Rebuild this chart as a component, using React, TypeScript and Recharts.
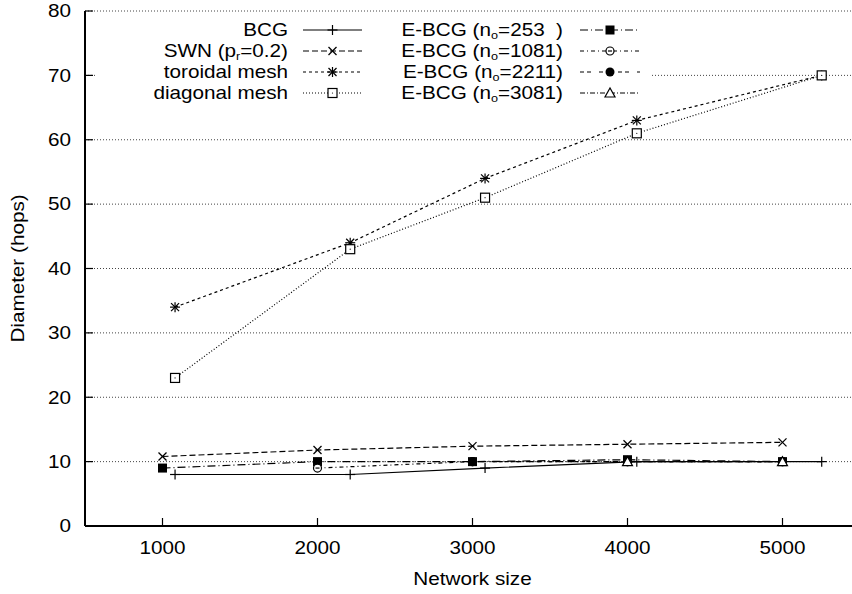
import React from 'react';
import { CartesianGrid, Legend, Line, LineChart, XAxis, YAxis } from 'recharts';

const FONT = '"Liberation Sans", Arial, Helvetica, sans-serif';
const FS = 18;
const STRETCH = 1.15; // gnuplot's Helvetica renders a bit wide

// network sizes used by BCG and the two meshes
const bcgSizes = [1081, 2211, 3081, 4060, 5253];
const bcgDiameter = [8, 8, 9, 10, 10];
const toroidalDiameter = [34, 44, 54, 63, 70];
const diagonalDiameter = [23, 43, 51, 61, 70];

// SWN and E-BCG use round sizes
const roundSizes = [1000, 2000, 3000, 4000, 5000];
const swnDiameter = [10.8, 11.8, 12.4, 12.7, 13];
const ebcg253Diameter = [9, 10, 10, 10.3, 10];
const ebcg1081Sizes = [2000, 3000, 4000, 5000];
const ebcg1081Diameter = [9, 10, 10, 10];
const ebcg2211Sizes = [3000, 4000, 5000];
const ebcg2211Diameter = [10, 10, 10];
const ebcg3081Sizes = [4000, 5000];
const ebcg3081Diameter = [10, 10];

const xTicks = [1000, 2000, 3000, 4000, 5000];
const xGridTicks = [1000, 1500, 2000, 2500, 3000, 3500, 4000, 4500, 5000];
const yTicks = [0, 10, 20, 30, 40, 50, 60, 70, 80];

type MarkerKind =
  | 'plus'
  | 'cross'
  | 'star'
  | 'square'
  | 'squareFill'
  | 'circle'
  | 'circleFill'
  | 'triangle';

const zip = (xs: number[], ys: number[]) => xs.map((x, i) => ({ x, y: ys[i] }));

type Series = {
  label: React.ReactNode;
  data: { x: number; y: number }[];
  dash?: string;
  marker: MarkerKind;
};

const sub = (main: string, s: string, rest: string) => (
  <>
    {main}
    <tspan dy={3} fontSize={11}>
      {s}
    </tspan>
    <tspan dy={-3}>{rest}</tspan>
  </>
);

const leftSeries: Series[] = [
  { label: 'BCG', data: zip(bcgSizes, bcgDiameter), marker: 'plus' },
  { label: sub('SWN (p', 'r', '=0.2)'), data: zip(roundSizes, swnDiameter), dash: '6 3', marker: 'cross' },
  { label: 'toroidal mesh', data: zip(bcgSizes, toroidalDiameter), dash: '3 3', marker: 'star' },
  { label: 'diagonal mesh', data: zip(bcgSizes, diagonalDiameter), dash: '1 2', marker: 'square' },
];

const rightSeries: Series[] = [
  { label: sub('E-BCG (n', 'o', '=253  )'), data: zip(roundSizes, ebcg253Diameter), dash: '8 3 1 3', marker: 'squareFill' },
  { label: sub('E-BCG (n', 'o', '=1081)'), data: zip(ebcg1081Sizes, ebcg1081Diameter), dash: '4 3 1 3', marker: 'circle' },
  { label: sub('E-BCG (n', 'o', '=2211)'), data: zip(ebcg2211Sizes, ebcg2211Diameter), dash: '4 3 4 8', marker: 'circleFill' },
  { label: sub('E-BCG (n', 'o', '=3081)'), data: zip(ebcg3081Sizes, ebcg3081Diameter), dash: '5 2 1 2', marker: 'triangle' },
];

const allSeries = [...leftSeries, ...rightSeries];

const Marker = ({ kind, cx, cy }: { kind: MarkerKind; cx: number; cy: number }) => {
  const s = { stroke: '#000', strokeWidth: 1.2, fill: 'none' };
  switch (kind) {
    case 'plus':
      return (
        <g {...s}>
          <line x1={cx - 5} y1={cy} x2={cx + 5} y2={cy} />
          <line x1={cx} y1={cy - 5} x2={cx} y2={cy + 5} />
        </g>
      );
    case 'cross':
      return (
        <g {...s}>
          <line x1={cx - 4} y1={cy - 4} x2={cx + 4} y2={cy + 4} />
          <line x1={cx - 4} y1={cy + 4} x2={cx + 4} y2={cy - 4} />
        </g>
      );
    case 'star':
      return (
        <g {...s}>
          <line x1={cx - 4} y1={cy - 4} x2={cx + 4} y2={cy + 4} />
          <line x1={cx - 4} y1={cy + 4} x2={cx + 4} y2={cy - 4} />
          <line x1={cx - 5} y1={cy} x2={cx + 5} y2={cy} />
          <line x1={cx} y1={cy - 5} x2={cx} y2={cy + 5} />
        </g>
      );
    case 'square':
      return (
        <g {...s}>
          <rect x={cx - 4.5} y={cy - 4.5} width={9} height={9} fill="#fff" />
          <circle cx={cx} cy={cy} r={0.6} fill="#000" stroke="none" />
        </g>
      );
    case 'squareFill':
      return <rect x={cx - 4.5} y={cy - 4.5} width={9} height={9} fill="#000" />;
    case 'circle':
      return (
        <g {...s}>
          <circle cx={cx} cy={cy} r={4} fill="#fff" />
          <line x1={cx - 2} y1={cy} x2={cx + 2} y2={cy} />
        </g>
      );
    case 'circleFill':
      return <circle cx={cx} cy={cy} r={4.5} fill="#000" />;
    case 'triangle':
      return (
        <g {...s}>
          <polygon points={`${cx},${cy - 5} ${cx - 5},${cy + 4} ${cx + 5},${cy + 4}`} fill="#fff" />
        </g>
      );
  }
};

// text drawn with the slight horizontal stretch of the original
const WideText = ({
  x,
  y,
  anchor,
  dy,
  rotate,
  children,
}: {
  x: number;
  y: number;
  anchor: 'start' | 'middle' | 'end';
  dy: string;
  rotate?: boolean;
  children: React.ReactNode;
}) => (
  <text
    transform={`translate(${x} ${y})${rotate ? ' rotate(-90)' : ''} scale(${STRETCH} 1)`}
    dy={dy}
    textAnchor={anchor}
    fontSize={FS}
    fontFamily={FONT}
    fill="#000"
    style={{ whiteSpace: 'pre' }}
  >
    {children}
  </text>
);

const KeyBox = () => {
  const rowY = [14, 35, 56, 77];
  const col = (list: Series[], textEnd: number, lineStart: number, lineEnd: number) =>
    list.map((s, i) => (
      <g key={i}>
        <WideText x={textEnd} y={rowY[i]} anchor="end" dy="0.35em">
          {s.label}
        </WideText>
        <line
          x1={lineStart}
          x2={lineEnd}
          y1={rowY[i]}
          y2={rowY[i]}
          stroke="#000"
          strokeWidth={1.2}
          strokeDasharray={s.dash}
        />
        <Marker kind={s.marker} cx={(lineStart + lineEnd) / 2} cy={rowY[i]} />
      </g>
    ));
  return (
    <svg width={553} height={87} style={{ overflow: 'visible', display: 'block' }}>
      {col(leftSeries, 191, 206, 265)}
      {col(rightSeries, 466, 483, 543)}
    </svg>
  );
};

const XTick = (p: any) => (
  <WideText x={p.x} y={p.y} anchor="middle" dy="0.71em">
    {p.payload.value}
  </WideText>
);

const YTick = (p: any) => (
  <WideText x={p.x} y={p.y} anchor="end" dy="0.35em">
    {p.payload.value}
  </WideText>
);

export default function App() {
  return (
    <div
      style={{
        position: 'absolute',
        left: 0,
        top: 0,
        width: 852,
        height: 594,
        overflow: 'hidden',
        background: '#fff',
      }}
    >
      <LineChart width={870} height={594} margin={{ top: 11, right: 10, bottom: 0, left: 0 }}>
        <XAxis
          xAxisId="minor"
          type="number"
          dataKey="x"
          domain={[500, 5500]}
          ticks={xGridTicks}
          interval={0}
          height={0}
          axisLine={false}
          tick={false}
          tickSize={-4}
          tickLine={{ stroke: '#000', strokeWidth: 1.2 }}
          allowDataOverflow
        />
        <XAxis
          xAxisId="x"
          type="number"
          dataKey="x"
          domain={[500, 5500]}
          ticks={xTicks}
          interval={0}
          height={68}
          tickSize={-8}
          tickMargin={23}
          tick={<XTick />}
          axisLine={{ stroke: '#000', strokeWidth: 2 }}
          tickLine={{ stroke: '#000', strokeWidth: 1.2 }}
          allowDataOverflow
          label={{
            content: (p: any) => (
              <WideText x={p.viewBox.x + p.viewBox.width / 2} y={p.viewBox.y + 59} anchor="middle" dy="0">
                Network size
              </WideText>
            ),
          }}
        />
        <XAxis
          xAxisId="top"
          orientation="top"
          type="number"
          dataKey="x"
          domain={[500, 5500]}
          ticks={xTicks}
          interval={0}
          height={0}
          tick={false}
          tickSize={-8}
          axisLine={{ stroke: '#000', strokeWidth: 2 }}
          tickLine={{ stroke: '#000', strokeWidth: 1.2 }}
          allowDataOverflow
        />
        <YAxis
          type="number"
          domain={[0, 80]}
          ticks={yTicks}
          interval={0}
          width={85}
          tickSize={-8}
          tickMargin={22}
          tick={<YTick />}
          axisLine={{ stroke: '#000', strokeWidth: 2 }}
          tickLine={{ stroke: '#000', strokeWidth: 1.2 }}
          label={{
            content: (p: any) => (
              <WideText
                x={p.viewBox.x + 18}
                y={p.viewBox.y + p.viewBox.height / 2}
                anchor="middle"
                dy="0.35em"
                rotate
              >
                Diameter (hops)
              </WideText>
            ),
          }}
        />
        <CartesianGrid xAxisId="minor" stroke="#444" strokeDasharray="1 2" strokeWidth={1} />
        <Legend
          layout="horizontal"
          verticalAlign="middle"
          align="center"
          wrapperStyle={{
            position: 'absolute',
            left: 97,
            top: 16,
            width: 553,
            height: 87,
            background: '#fff',
            margin: 0,
            padding: 0,
          }}
          content={() => <KeyBox />}
        />
        {allSeries.map((s, i) => (
          <Line
            key={i}
            xAxisId="x"
            data={s.data}
            dataKey="y"
            type="linear"
            stroke="#000"
            strokeWidth={1.2}
            strokeDasharray={s.dash}
            isAnimationActive={false}
            dot={(p: any) => (
              <Marker key={`${i}-${p.index}`} kind={s.marker} cx={p.cx} cy={p.cy} />
            )}
            activeDot={false}
          />
        ))}
      </LineChart>
    </div>
  );
}
